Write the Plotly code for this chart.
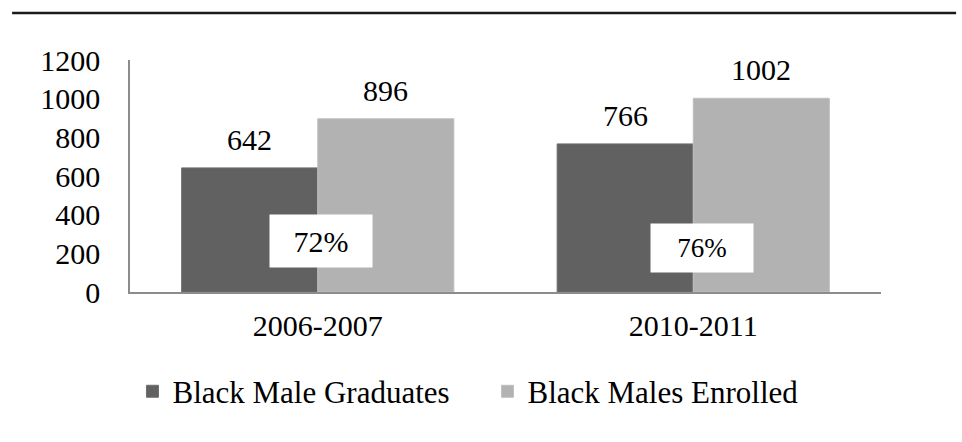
import plotly.graph_objects as go

categories = ["2006-2007", "2010-2011"]
graduates = [642, 766]
enrolled = [896, 1002]
series_names = ["Black Male Graduates", "Black Males Enrolled"]
y_ticks = [0, 200, 400, 600, 800, 1000, 1200]

FONT = "Liberation Serif"
FS = 30

fig = go.Figure()
fig.add_trace(go.Bar(
    x=categories, y=graduates, name=series_names[0],
    marker=dict(color="#616161", line=dict(color="#707070", width=1)),
))
fig.add_trace(go.Bar(
    x=categories, y=enrolled, name=series_names[1],
    marker=dict(color="#b2b2b2", line=dict(color="#c0c0c0", width=1)),
))

# value labels above bars
plot_w = 962 - 130 - 81
bargap = 0.275
half_bar = plot_w / len(categories) * (1 - bargap) / 4
for series, sign in ((graduates, -1), (enrolled, 1)):
    for cat, v in zip(categories, series):
        fig.add_annotation(
            x=cat, y=v, xref="x", yref="y", text=str(v), showarrow=False,
            xshift=sign * half_bar, yanchor="bottom", yshift=10,
            font=dict(family=FONT, size=FS, color="black"),
        )

# percentage boxes
pct_y = [264, 228]
for i, cat in enumerate(categories):
    pct = round(100 * graduates[i] / enrolled[i])
    fig.add_annotation(
        x=cat, y=pct_y[i], xref="x", yref="y", text=f"{pct}%",
        showarrow=False, bgcolor="white", xshift=3 + 6 * i,
        font=dict(family=FONT, size=FS if i == 0 else 27, color="black"),
        width=96, height=46 if i == 0 else 42, borderpad=3,
    )

# top rule
fig.add_shape(type="line", xref="paper", yref="paper",
              x0=-0.157, x1=1.1, y0=1.203, y1=1.203,
              line=dict(color="#1a1a1a", width=2.5))

fig.update_layout(
    width=962, height=442,
    margin=dict(l=130, r=81, t=60, b=150),
    paper_bgcolor="white", plot_bgcolor="white",
    barmode="group", bargap=bargap, bargroupgap=0,
    font=dict(family=FONT, size=FS, color="black"),
    showlegend=True,
    legend=dict(orientation="h", x=0.476, xanchor="center", y=-0.313, yanchor="top",
                font=dict(family=FONT, size=31), itemwidth=30, entrywidth=310,
                traceorder="normal"),
    xaxis=dict(showline=True, linecolor="#8c8c8c", linewidth=1.5,
               ticks="", showgrid=False, tickfont=dict(family=FONT, size=FS),
               ticklabelstandoff=6),
    yaxis=dict(range=[0, 1200], tickvals=y_ticks, showline=True, linecolor="#8c8c8c",
               linewidth=1.5, ticks="", showgrid=False, zeroline=False,
               tickfont=dict(family=FONT, size=FS), ticklabelstandoff=22),
)

fig.write_html("out.html", post_script="document.body.style.margin='0';",
               config={"displayModeBar": False})
